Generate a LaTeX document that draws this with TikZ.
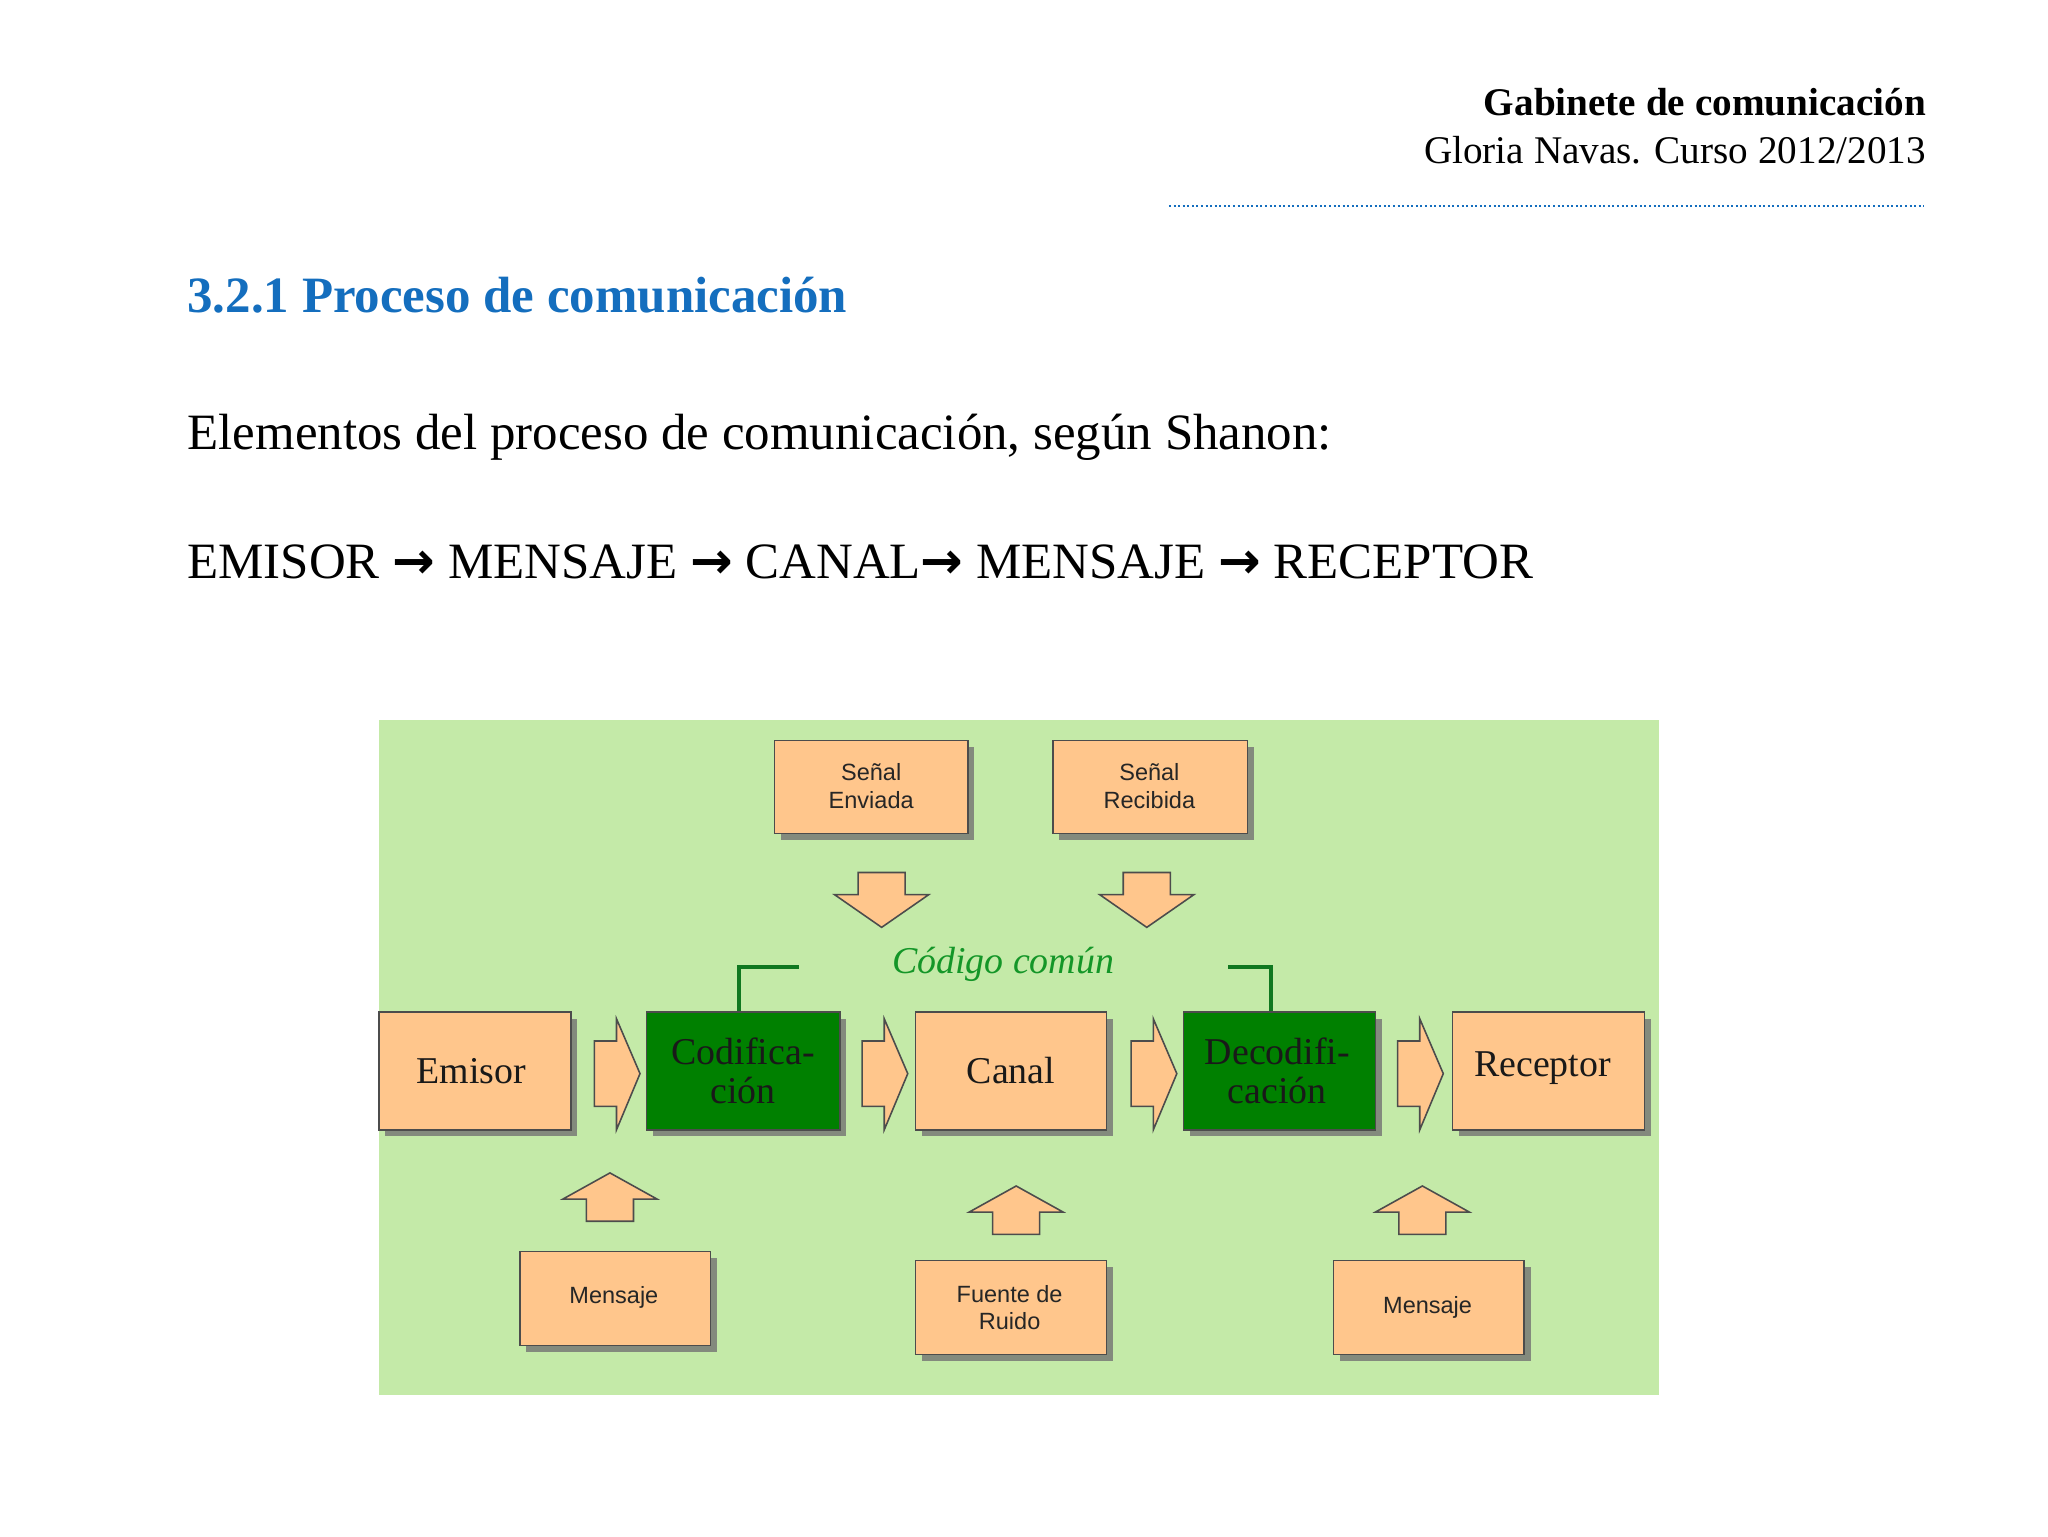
\documentclass[tikz,border=0pt]{standalone}
\usepackage{fontspec}
\usetikzlibrary{shadows}
\setmainfont{Liberation Serif}
\newfontfamily\sansf{Liberation Sans}
\newfontfamily\dvf{DejaVu Sans}
\newcommand{\myarr}{{\dvf\bfseries →}}
\begin{document}
\begin{tikzpicture}[x=1pt,y=-1pt,
  ob/.style={draw=black!70,fill=orange!45!white,line width=1.2pt,drop shadow={shadow xshift=5pt,shadow yshift=-5pt,fill=black!55,opacity=0.8}},
  gb/.style={draw=black!70,fill=green!50!black,line width=1.2pt,drop shadow={shadow xshift=5pt,shadow yshift=-5pt,fill=black!55,opacity=0.8}},
  st/.style={font=\sansf\fontsize{18}{21}\selectfont,align=center,text=black!85},
  bt/.style={font=\fontsize{29}{30}\selectfont,align=center,text=black!90},
  arr/.style={draw=black!70,fill=orange!45!white,line width=1.2pt}]
\definecolor{bg}{RGB}{196,234,168}
\definecolor{tblue}{RGB}{20,110,190}
\definecolor{cgreen}{RGB}{20,150,40}
\useasboundingbox (0,0) rectangle (1568,1176);
\fill[white] (0,0) rectangle (1568,1176);
\node[anchor=east,font=\bfseries\fontsize{30}{32}\selectfont] (h1) at (1478,78) {Gabinete de comunicación};
\node[anchor=east,font=\fontsize{30}{32}\selectfont] (h2) at (1478,115) {Gloria Navas. Curso 2012/2013};
\draw[tblue,line width=1.5pt,dotted] (895,158) -- (1473,158);
\node[anchor=west,text=tblue,font=\bfseries\fontsize{39}{42}\selectfont] (t) at (140,226) {3.2.1 Proceso de comunicación};
\node[anchor=west,font=\fontsize{39}{42}\selectfont] (l1) at (140,335) {Elementos del proceso de comunicación, según Shanon:};
\node[anchor=west,font=\fontsize{39}{42}\selectfont] (l2) at (140,430) {EMISOR \myarr{} MENSAJE \myarr{} CANAL\myarr{} MENSAJE \myarr{} RECEPTOR};
\fill[bg] (290,551) rectangle (1270,1068);
\draw[cgreen!80!black,line width=3pt] (566,775) -- (566,740) -- (612,740);
\draw[cgreen!80!black,line width=3pt] (973,775) -- (973,740) -- (940,740);
\node[text=cgreen,font=\itshape\fontsize{29}{30}\selectfont] (cc) at (768,738) {Código común};
\draw[ob] (593,567) rectangle (741,638); \node[st] (se) at (667,602) {Señal\\Enviada};
\draw[ob] (806,567) rectangle (955,638); \node[st] (sr) at (880,602) {Señal\\Recibida};
\draw[ob] (290,775) rectangle (437,865); \node[bt] (em) at (361,820) {Emisor};
\draw[gb] (495,775) rectangle (643,865); \node[bt] (co) at (569,820) {Codifica-\\ción};
\draw[ob] (701,775) rectangle (847,865); \node[bt] (ca) at (774,820) {Canal};
\draw[gb] (906,775) rectangle (1053,865); \node[bt] (de) at (978,820) {Decodifi-\\cación};
\draw[ob] (1112,775) rectangle (1259,865); \node[bt] (re) at (1181,818) {Receptor};
\draw[ob] (398,958) rectangle (544,1030); \node[st] (m1) at (470,993) {Mensaje};
\draw[ob] (701,965) rectangle (847,1037); \node[st] (fr) at (773,1001) {Fuente de\\Ruido};
\draw[ob] (1021,965) rectangle (1167,1037); \node[st] (m2) at (1093,1001) {Mensaje};
\foreach \x in {455,660,866,1070}{
 \draw[arr] (\x,797) -- (\x+17,797) -- (\x+17,780) -- (\x+35,822) -- (\x+17,865) -- (\x+17,847) -- (\x,847) -- cycle;}
\foreach \x in {675,878}{
 \draw[arr] (\x-18,668) -- (\x+18,668) -- (\x+18,685) -- (\x+36,685) -- (\x,710) -- (\x-36,685) -- (\x-18,685) -- cycle;}
\foreach \x/\y in {467/898,778/908,1089/908}{
 \draw[arr] (\x-18,\y+37) -- (\x+18,\y+37) -- (\x+18,\y+20) -- (\x+36,\y+20) -- (\x,\y) -- (\x-36,\y+20) -- (\x-18,\y+20) -- cycle;}
\end{tikzpicture}
\end{document}
